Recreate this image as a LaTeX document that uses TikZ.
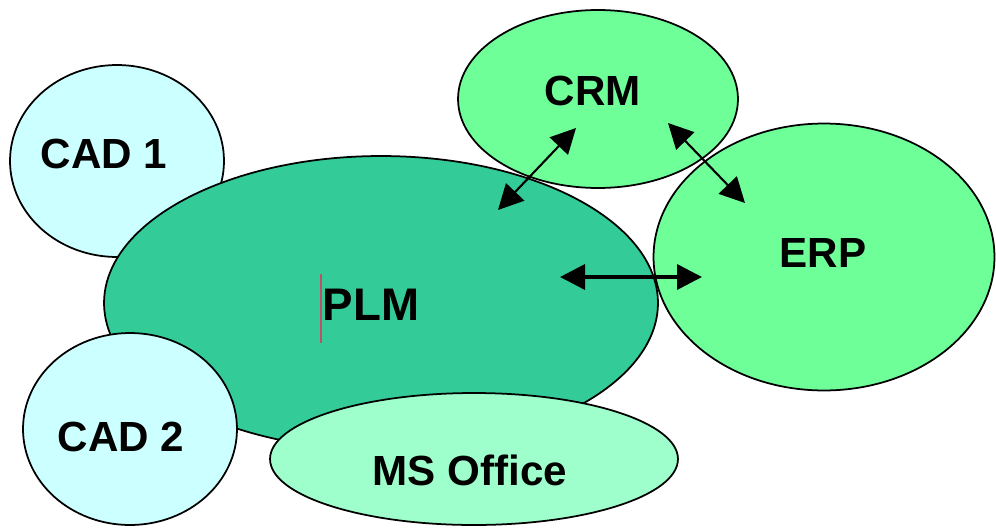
\documentclass[tikz,border=0pt]{standalone}
\usepackage{fontspec}
\setmainfont{Liberation Sans}
\usetikzlibrary{shapes.geometric,arrows.meta}

\definecolor{cadfill}{HTML}{CCFFFF}
\definecolor{plmfill}{HTML}{33CC99}
\definecolor{sysfill}{HTML}{6FFF99}
\definecolor{officefill}{HTML}{9EFFCC}
\definecolor{cursorred}{HTML}{C0506A}

\begin{document}
\begin{tikzpicture}[x=0.02cm,y=-0.02cm,
  blob/.style={ellipse,draw=black,line width=1pt,inner sep=0pt},
  lbl/.style={font=\fontsize{24}{28}\selectfont\bfseries},
  link/.style={{Triangle[length=0.5cm,width=0.5cm]}-{Triangle[length=0.5cm,width=0.5cm]},line width=1.2pt}]

\useasboundingbox (0,0) rectangle (996,527);

\node[blob,fill=cadfill,minimum width=4.28cm,minimum height=3.84cm] (cad1) at (117,161) {};
\node[blob,fill=plmfill,minimum width=11.08cm,minimum height=5.88cm] (plm) at (381,303) {};
\node[blob,fill=cadfill,minimum width=4.28cm,minimum height=3.84cm] (cad2) at (130,429) {};
\node[blob,fill=officefill,minimum width=8.16cm,minimum height=2.64cm] (office) at (474,459) {};
\node[blob,fill=sysfill,minimum width=5.6cm,minimum height=3.56cm] (crm) at (598,99) {};
\node[blob,fill=sysfill,minimum width=6.82cm,minimum height=5.34cm] (erp) at (824,257) {};

\coordinate (crm-w) at (576,128);
\coordinate (plm-n) at (498,210);
\coordinate (crm-e) at (668,123);
\coordinate (erp-n) at (745,203);
\coordinate (plm-e) at (560,277);
\coordinate (erp-w) at (702,277);

\draw[link] (plm-n) -- (crm-w);
\draw[link] (crm-e) -- (erp-n);
\draw[link,line width=2pt] (plm-e) -- (erp-w);

\node[lbl] (cad1-text) at (104,154) {CAD 1};
\node[lbl] (cad2-text) at (121,437) {CAD 2};
\node[lbl,font=\fontsize{26}{30}\selectfont\bfseries] (plm-text) at (371,305) {PLM};
\node[lbl] (crm-text) at (593,91) {CRM};
\node[lbl] (erp-text) at (823,253) {ERP};
\node[lbl] (office-text) at (470,470) {MS Office};

\draw[cursorred,line width=0.6pt] (321,274) -- (321,343);

\end{tikzpicture}
\end{document}
